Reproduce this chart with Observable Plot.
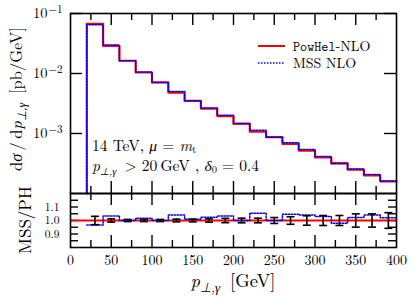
<!DOCTYPE html>
<html><head><meta charset="utf-8">
<script src="https://cdn.jsdelivr.net/npm/d3@7"></script>
<script src="https://cdn.jsdelivr.net/npm/@observablehq/plot@0.6"></script>
<style>
body{margin:0;background:#fff;}
#chart{position:relative;width:415px;height:299px;}
#chart svg{position:absolute;left:0;overflow:visible;}
#chart svg text, #chart svg tspan{font-family:"Latin Modern Roman","Liberation Serif",serif;}
#chart svg tspan.mono{font-family:"Latin Modern Mono","Liberation Mono",monospace;}
</style></head><body><div id="chart"></div>
<script>
// ---- data ----
const binEdges = [20,40,60,80,100,120,140,160,180,200,220,240,260,280,300,320,340,360,380,400];
const powhelNLO = [0.067,0.0288,0.0163,0.0104,0.0071,0.00481,0.00349,0.0026,0.00195,0.00146,0.00107,0.00087,0.00067,0.00052,0.00040,0.00032,0.00025,0.000200,0.000159];
const ratioMSS = [0.967,1.034,1.0,1.017,1.0,1.04,1.01,1.025,1.034,1.0,1.054,1.0,1.047,1.04,1.03,0.98,1.022,1.04,1.02];
const errCenters = [30,50,70,90,110,130,150,170,190,210,230,250,270,290,310,330,350,370,390];
const errHalf = [0.031,0.012,0.008,0.008,0.008,0.01,0.01,0.012,0.016,0.017,0.017,0.022,0.028,0.035,0.037,0.037,0.049,0.049,0.058];
const xMajorTicks = [50,100,150,200,250,300,350];
const xMinorTicks = [25,75,125,175,225,275,325,375];
const xTickLabels = [0,50,100,150,200,250,300,350,400];
const yDecadeTicks = [1e-3,1e-2,1e-1];
const ratioTicks = [0.85,0.9,0.95,1.0,1.05,1.1,1.15];
const ratioTickLabels = [0.9,1.0,1.1];
const seriesNames = ["PowHel","MSS NLO"];

// ---- layout ----
const W = 415, ML = 70, MR = 19;
const topH = 193, topMT = 13;
const botH = 106, botMB = 52;
const font = "Latin Modern Roman";

const yMin = 1e-4;
const mssNLO = powhelNLO.map((v,i)=>v*ratioMSS[i]);
function steps(vals, startY){
  const pts = binEdges.map((e,i)=>({x:e, y: vals[Math.min(i, vals.length-1)]}));
  if (startY !== undefined) pts.unshift({x:binEdges[0], y:startY});
  return pts;
}
const errData = errCenters.map((x,i)=>({x, lo:1-errHalf[i], hi:1+errHalf[i]}));
const capSymbol = {draw(ctx, size){ const r = Math.sqrt(size); ctx.moveTo(-r*0.9,0); ctx.lineTo(r*0.9,0); }};

function xTickMarks(innerH){
  return [
    Plot.tickX(xMajorTicks, {x:d=>d, insetBottom: innerH-12, stroke:"black", strokeWidth:1.4}),
    Plot.tickX(xMinorTicks, {x:d=>d, insetBottom: innerH-7, stroke:"black", strokeWidth:1.4}),
    Plot.tickX(xMajorTicks, {x:d=>d, insetTop: innerH-12, stroke:"black", strokeWidth:1.4}),
    Plot.tickX(xMinorTicks, {x:d=>d, insetTop: innerH-7, stroke:"black", strokeWidth:1.4})
  ];
}
const innerW = W-ML-MR;

const topPlot = Plot.plot({
  width: W, height: topH, marginTop: topMT, marginBottom: 0, marginLeft: ML, marginRight: MR,
  style: {fontFamily: font, fontSize: "14px", background: "transparent", overflow: "visible"},
  x: {domain: [0,400], axis: null},
  y: {type: "log", domain: [yMin, 1e-1]},
  marks: [
    Plot.axisY({ticks: yDecadeTicks, tickSize: 0, tickPadding: 8, label: null,
      tickFormat: d => String(Math.round(Math.log10(d))), fontSize: 14.5}),
    ...xTickMarks(topH-topMT),
    Plot.tickY(yDecadeTicks, {y:d=>d, insetRight: innerW-12, stroke:"black", strokeWidth:1.4}),
    Plot.tickY(yDecadeTicks, {y:d=>d, insetLeft: innerW-12, stroke:"black", strokeWidth:1.4}),
    Plot.line(steps(powhelNLO, yMin), {x:"x", y:"y", curve:"step-after", stroke:"#ff0000", strokeWidth:2.2}),
    Plot.line(steps(mssNLO, yMin), {x:"x", y:"y", curve:"step-after", stroke:"#0000ff", strokeWidth:1.5, strokeDasharray:"1.5,1.5"}),
    Plot.frame({stroke:"black", strokeWidth:1.6})
  ]
});

const botPlot = Plot.plot({
  width: W, height: botH, marginTop: 0, marginBottom: botMB, marginLeft: ML, marginRight: MR,
  style: {fontFamily: font, fontSize: "14px", background: "transparent", overflow: "visible"},
  x: {domain: [0,400]},
  y: {domain: [0.8,1.2]},
  marks: [
    Plot.axisX({ticks: xTickLabels, tickSize: 0, tickPadding: 8, label: null, fontSize: 14}),
    Plot.axisY({ticks: ratioTickLabels, tickSize: 0, tickPadding: 11, label: null, tickFormat: d3.format(".1f"), fontSize: 11.5}),
    ...xTickMarks(botH-botMB),
    Plot.tickY(ratioTicks, {y:d=>d, insetRight: innerW-8, stroke:"black", strokeWidth:1.4}),
    Plot.tickY(ratioTicks, {y:d=>d, insetLeft: innerW-8, stroke:"black", strokeWidth:1.4}),
    Plot.ruleY([1], {stroke:"#ff0000", strokeWidth:2}),
    Plot.line(steps(ratioMSS), {x:"x", y:"y", curve:"step-after", stroke:"#0000ff", strokeWidth:1.5, strokeDasharray:"1.5,1.5"}),
    Plot.ruleX(errData, {x:"x", y1:"lo", y2:"hi", stroke:"black", strokeWidth:1.6}),
    Plot.dot(errData, {x:"x", y:"lo", symbol: capSymbol, r: 2.5, stroke:"black", strokeWidth:1.6, fill:"none"}),
    Plot.dot(errData, {x:"x", y:"hi", symbol: capSymbol, r: 2.5, stroke:"black", strokeWidth:1.6, fill:"none"}),
    Plot.frame({stroke:"black", strokeWidth:1.6})
  ]
});

const chart = document.getElementById("chart");
topPlot.style.top = "0px";
botPlot.style.top = topH + "px";
chart.appendChild(topPlot);
chart.appendChild(botPlot);

// superscript exponents for log labels
d3.select(topPlot).selectAll('g[aria-label="y-axis tick label"] text').each(function(){
  const e = this.textContent;
  const t = d3.select(this);
  t.text(null);
  t.append("tspan").text("10");
  t.append("tspan").attr("dx","1").attr("dy","-0.45em").attr("font-size","11px").text("\u2212" + String(Math.abs(+e)));
});

// overlay for titles, annotation, legend
const ov = d3.select(chart).append("svg").attr("width",W).attr("height",299)
  .style("top","0px").style("pointer-events","none");

function pSub(t, sz, sub){
  t.append("tspan").attr("font-style","italic").text("p");
  t.append("tspan").attr("font-size", sub+"px").attr("dy", sz*0.25).attr("font-style","italic").text("\u22a5,\u03b3");
  t.append("tspan").attr("dy", -sz*0.25).text("\u2009");
}
// y title
{
  const t = ov.append("text").attr("transform","translate(22,99) rotate(-90)").attr("text-anchor","middle").attr("font-size",16.5);
  t.append("tspan").text("d");
  t.append("tspan").attr("font-style","italic").text("\u03c3");
  t.append("tspan").text("\u2009/\u2009d");
  pSub(t,16.5,12);
  t.append("tspan").text(" [pb/GeV]");
}
// ratio y title
ov.append("text").attr("transform","translate(31,220) rotate(-90)").attr("text-anchor","middle").attr("font-size",17).text("MSS/PH");
// x title
{
  const t = ov.append("text").attr("x",233).attr("y",287).attr("text-anchor","middle").attr("font-size",18.5);
  pSub(t,18.5,13);
  t.append("tspan").text(" [GeV]");
}
// annotation
{
  const a = ov.append("text").attr("x",92).attr("y",151).attr("font-size",15.5);
  a.append("tspan").text("14 TeV, ");
  a.append("tspan").attr("font-style","italic").text("\u03bc");
  a.append("tspan").text(" = ");
  a.append("tspan").attr("font-style","italic").text("m");
  a.append("tspan").attr("font-size",10.5).attr("dy",2).text("t");
  const b = ov.append("text").attr("x",92).attr("y",171).attr("font-size",15.5);
  pSub(b,15.5,10.5);
  b.append("tspan").text(" > 20\u2009GeV , ");
  b.append("tspan").attr("font-style","italic").text("\u03b4");
  b.append("tspan").attr("font-size",10.5).attr("dy",2).text("0");
  b.append("tspan").attr("dy",-2).text(" = 0.4");
}
// legend
{
  const ly = [46, 63];
  ov.append("line").attr("x1",258).attr("x2",285).attr("y1",ly[0]).attr("y2",ly[0]).attr("stroke","#ff0000").attr("stroke-width",2);
  ov.append("line").attr("x1",258).attr("x2",285).attr("y1",ly[1]).attr("y2",ly[1]).attr("stroke","#0000ff").attr("stroke-width",1.5).attr("stroke-dasharray","1.5,1.5");
  const t1 = ov.append("text").attr("x",293).attr("y",ly[0]).attr("dy","0.33em").attr("font-size",14);
  t1.append("tspan").attr("class","mono").attr("font-size",13.5).text(seriesNames[0]);
  t1.append("tspan").text("-NLO");
  ov.append("text").attr("x",293).attr("y",ly[1]).attr("dy","0.33em").attr("font-size",14).text(seriesNames[1]);
}
</script></body></html>
